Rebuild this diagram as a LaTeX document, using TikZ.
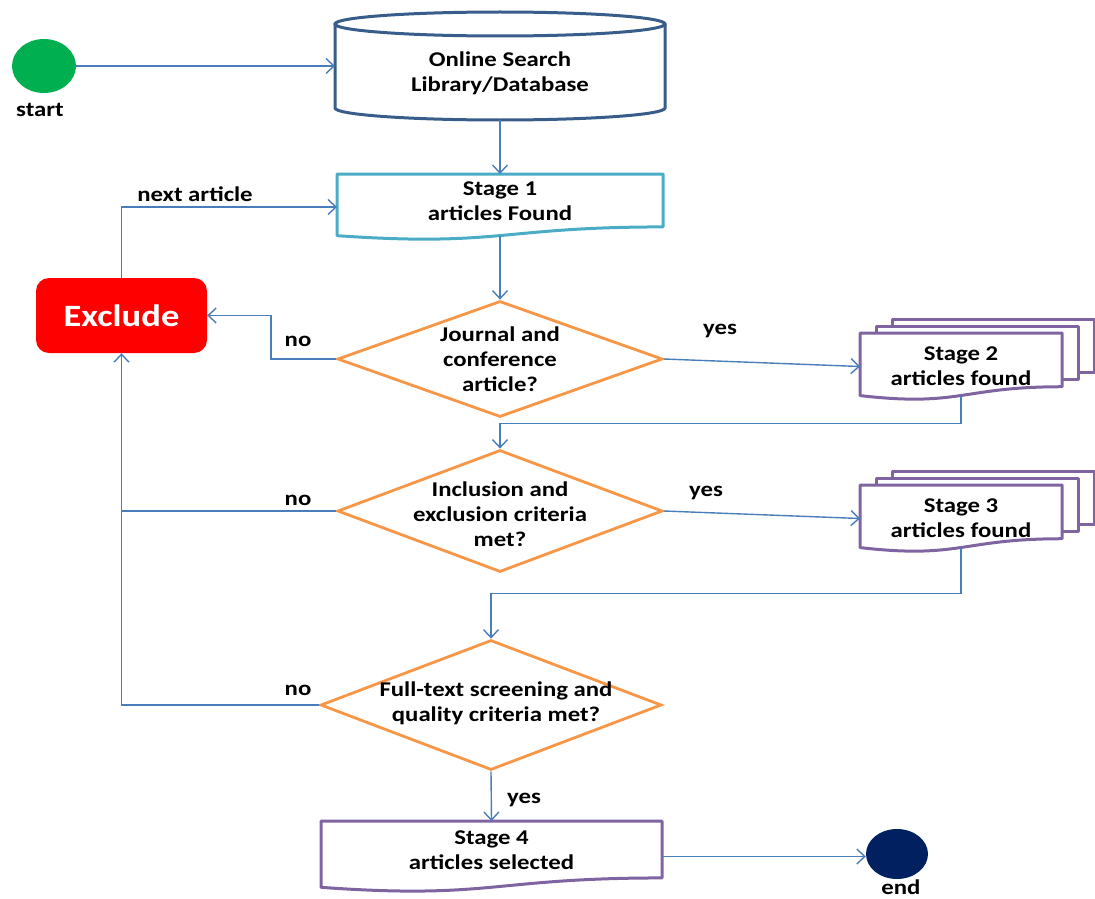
\documentclass[tikz,border=0pt]{standalone}
\usepackage{fontspec}
\setmainfont{Carlito}[FakeStretch=1.18]
\usetikzlibrary{shapes.geometric,arrows.meta,calc}

\definecolor{flowblue}{HTML}{4A7EBB}
\definecolor{dbblue}{HTML}{385D8A}
\definecolor{tealdoc}{HTML}{4BACC6}
\definecolor{decorange}{HTML}{F79646}
\definecolor{docpurple}{HTML}{8064A2}
\definecolor{startgreen}{HTML}{00B050}
\definecolor{endnavy}{HTML}{002060}
\definecolor{exred}{HTML}{FF0000}

\tikzset{
  txt/.style={font=\fontsize{21}{25}\selectfont\bfseries, align=center, inner sep=0pt},
  arr/.style={draw=flowblue, line width=1.4pt,
    -{Straight Barb[length=8pt,width=15pt,line width=1.4pt]}},
  link/.style={draw=flowblue, line width=1.4pt},
  frame/.style={shape=rectangle, draw=none, inner sep=0pt, outer sep=0pt},
  decision/.style={diamond, draw=decorange, line width=2.8pt, inner sep=0pt},
  dbline/.style={draw=dbblue, line width=3pt},
  s1line/.style={draw=tealdoc, line width=3pt, line join=round},
  docline/.style={draw=docpurple, line width=3pt, line join=round},
  terminal/.style={ellipse, minimum width=64pt, minimum height=54pt, inner sep=0pt},
  excludebox/.style={rectangle, rounded corners=13pt, fill=exred, minimum width=171pt,
    minimum height=75pt, inner sep=0pt, text=white,
    font=\fontsize{31}{37}\selectfont\bfseries},
}

% document symbol: flat top, wavy bottom (left end lower than right end)
\newcommand\flowdoc[2]{%
  \draw[#1] (#2.north west) -- (#2.north east)
    -- ($(#2.north east)!0.802!(#2.south east)$)
    .. controls ($(#2.north)!0.802!(#2.south)$) and ($(#2.north)!1.107!(#2.south)$)
    .. ($(#2.north west)!0.934!(#2.south west)$) -- cycle;}

% stack of documents: two sheets behind the front one
\newcommand\flowstack[2]{%
  \draw[#1,fill=white] ($(#2.north west)+(32,-14)$) rectangle
    ($(#2.north east)!0.802!(#2.south east)+(32,-14)$);
  \draw[#1,fill=white] ($(#2.north west)+(16,-7)$) rectangle
    ($(#2.north east)!0.802!(#2.south east)+(16,-7)$);
  \flowdoc{#1,fill=white}{#2}}

\begin{document}
\begin{tikzpicture}[x=1pt,y=-1pt]
\useasboundingbox (0,0) rectangle (1095,899);

% terminals
\node[terminal, fill=startgreen] (start) at (44,66) {};
\node[txt] (startlbl) at (40,110) {start};
\node[terminal, fill=endnavy, minimum width=62pt, minimum height=50pt] (end) at (897,854) {};
\node[txt] (endlbl) at (901,887) {end};

% database cylinder
\node[frame, minimum width=330pt, minimum height=84pt] (db) at (500,66) {};
\draw[dbline] (db.north west) -- (db.south west)
  arc[start angle=180, end angle=360, x radius=165pt, y radius=12pt] -- (db.north east);
\draw[dbline] (db.north) ellipse[x radius=165pt, y radius=12pt];
\node[txt] (dbtext) at (500,73) {Online Search\\Library/Database};

% stage 1
\node[frame, minimum width=326pt, minimum height=66pt] (s1) at (500,207) {};
\flowdoc{s1line}{s1}
\node[txt] (s1text) at (500,201) {Stage 1\\articles Found};

% exclude
\node[excludebox] (ex) at (121.5,315.5) {Exclude};

% decisions
\node[decision, minimum width=325pt, minimum height=116pt,
  label={[txt]center:Journal and\\conference\\article?}] (d1) at (500,359) {};
\node[decision, minimum width=325pt, minimum height=122pt,
  label={[txt, yshift=-3pt]center:Inclusion and\\exclusion criteria\\met?}] (d2) at (500,511) {};
\node[decision, minimum width=341pt, minimum height=130pt,
  label={[txt, xshift=5pt, yshift=2pt]center:Full-text screening and\\quality criteria met?}] (d3) at (491,705) {};

% stages 2 and 3
\node[frame, minimum width=202pt, minimum height=67pt] (s2) at (961,366.5) {};
\flowstack{docline}{s2}
\node[txt] (s2text) at (961,366) {Stage 2\\articles found};
\node[frame, minimum width=202pt, minimum height=67pt] (s3) at (961,518.5) {};
\flowstack{docline}{s3}
\node[txt] (s3text) at (961,518) {Stage 3\\articles found};

% stage 4
\node[frame, minimum width=341pt, minimum height=71pt] (s4) at (491.5,856.5) {};
\flowdoc{docline}{s4}
\node[txt] (s4text) at (491.5,850) {Stage 4\\articles selected};

% bottom points of the wavy documents
\coordinate (s1b) at ($(s1.north)!0.933!(s1.south)$);
\coordinate (s2b) at ($(s2.north)!0.933!(s2.south)$);
\coordinate (s3b) at ($(s3.north)!0.933!(s3.south)$);

% connectors
\draw[arr] (start.east) -- (db.west);
\draw[arr] ([yshift=-12pt]db.south) -- (s1.north);
\draw[arr] (s1b) -- (d1.north);
\draw[arr] (ex.north) |- (s1.west);
\draw[arr] (d1.west) -- ++(-65,0) |- (ex.east);
\draw[arr] (d1.east) -- (s2.west);
\draw[arr] (s2b) -- ++(0,28) -| (d2.north);
\draw[link] (d2.west) -- (d2.west -| ex.south);
\draw[arr] (d2.east) -- (s3.west);
\draw[arr] (s3b) -- ++(0,46) -| (d3.north);
\draw[arr] (d3.west) -| (ex.south);
\draw[arr] (d3.south) -- (s4.north);
\draw[arr] (s4.east) -- (s4.east -| end.west);

% connector labels
\node[txt] (lnext) at (195,194) {next article};
\node[txt] (lno1) at (298,341) {no};
\node[txt] (lyes1) at (720,331) {yes};
\node[txt] (lno2) at (298,500) {no};
\node[txt] (lyes2) at (706,493) {yes};
\node[txt] (lno3) at (298,690) {no};
\node[txt] (lyes3) at (524,800) {yes};
\end{tikzpicture}
\end{document}
